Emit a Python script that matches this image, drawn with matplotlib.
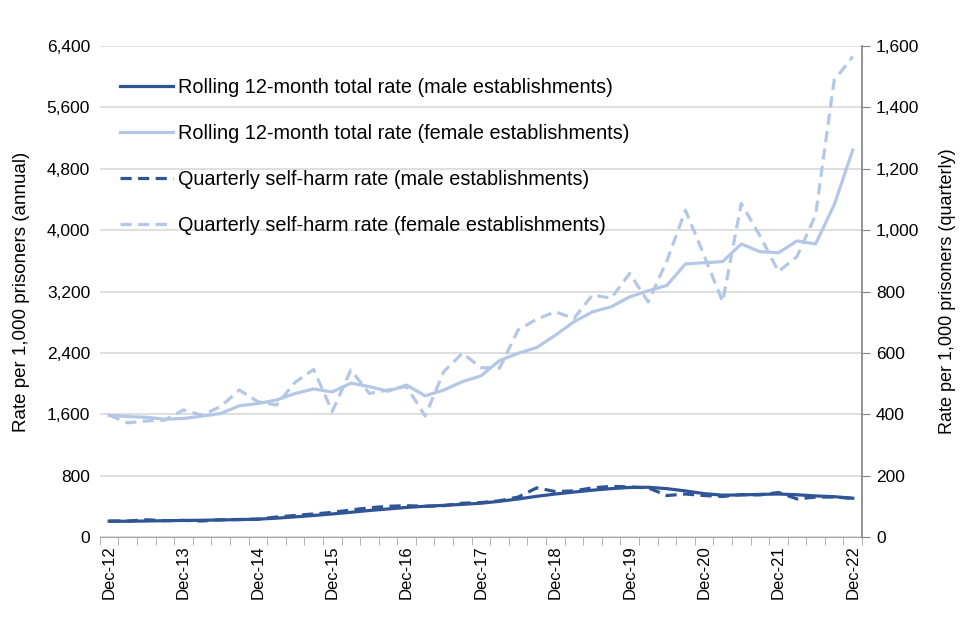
import matplotlib
matplotlib.use('Agg')
import matplotlib.pyplot as plt
from matplotlib.ticker import FuncFormatter, FixedLocator

plt.rcParams['font.family'] = ['Liberation Sans', 'DejaVu Sans']

# quarters Dec-12 .. Dec-22
quarters = ['Dec-12', 'Mar-13', 'Jun-13', 'Sep-13', 'Dec-13', 'Mar-14', 'Jun-14', 'Sep-14',
            'Dec-14', 'Mar-15', 'Jun-15', 'Sep-15', 'Dec-15', 'Mar-16', 'Jun-16', 'Sep-16',
            'Dec-16', 'Mar-17', 'Jun-17', 'Sep-17', 'Dec-17', 'Mar-18', 'Jun-18', 'Sep-18',
            'Dec-18', 'Mar-19', 'Jun-19', 'Sep-19', 'Dec-19', 'Mar-20', 'Jun-20', 'Sep-20',
            'Dec-20', 'Mar-21', 'Jun-21', 'Sep-21', 'Dec-21', 'Mar-22', 'Jun-22', 'Sep-22',
            'Dec-22']

# rolling 12-month rate (annual, left axis)
male_rolling = [205, 205, 208, 212, 215, 218, 222, 226, 232, 245, 262, 280, 300, 322, 345, 365,
                385, 400, 412, 425, 440, 465, 495, 530, 560, 585, 610, 630, 645, 648, 630, 600,
                565, 545, 548, 555, 560, 550, 535, 525, 505]
female_rolling = [1585, 1570, 1560, 1535, 1545, 1575, 1610, 1710, 1740, 1785, 1870, 1930, 1890,
                  2005, 1960, 1900, 1980, 1840, 1915, 2025, 2100, 2300, 2395, 2470, 2630, 2805,
                  2935, 3000, 3130, 3210, 3280, 3560, 3575, 3590, 3820, 3720, 3705, 3860, 3820,
                  4330, 5045]

# quarterly rate (right axis)
male_quarterly = [52, 52, 56, 53, 54, 52, 56, 57, 58, 65, 70, 75, 80, 88, 95, 100, 102, 100, 102,
                  110, 112, 118, 130, 160, 148, 150, 160, 165, 163, 160, 135, 140, 135, 132, 138,
                  137, 145, 124, 130, 130, 126]
female_quarterly = [397, 372, 378, 381, 414, 397, 425, 479, 441, 430, 504, 546, 409, 544, 468, 479,
                    490, 394, 539, 599, 552, 550, 675, 710, 734, 712, 789, 778, 859, 766, 900, 1065,
                    918, 767, 1087, 982, 865, 914, 1050, 1489, 1566]

dark = '#2F5597'
light = '#B4C7E7'
x = list(range(len(quarters)))

fig = plt.figure(figsize=(9.6, 6.4), dpi=100)
ax = fig.add_axes([0.104, 0.161, 0.794, 0.767])
ax2 = ax.twinx()

l1, = ax.plot(x, male_rolling, color=dark, lw=2.3, label='Rolling 12-month total rate (male establishments)')
l2, = ax.plot(x, female_rolling, color=light, lw=2.3, label='Rolling 12-month total rate (female establishments)')
l3, = ax2.plot(x, male_quarterly, color=dark, lw=2.3, dashes=(3.5, 2), label='Quarterly self-harm rate (male establishments)')
l4, = ax2.plot(x, female_quarterly, color=light, lw=2.3, dashes=(3.5, 2), label='Quarterly self-harm rate (female establishments)')

ax.set_xlim(-0.5, len(quarters) - 0.5)
ax.set_ylim(0, 6400)
ax2.set_ylim(0, 1600)
ax.set_yticks(range(0, 6401, 800))
ax2.set_yticks(range(0, 1601, 200))
fmt = FuncFormatter(lambda v, p: f'{int(v):,}')
ax.yaxis.set_major_formatter(fmt)
ax2.yaxis.set_major_formatter(fmt)

ax.grid(axis='y', color='#D9D9D9', lw=1.2)
ax.set_axisbelow(True)

major = [i for i, q in enumerate(quarters) if q.startswith('Dec')]
ax.set_xticks(major)
ax.set_xticklabels([quarters[i] for i in major], rotation=90)
ax.xaxis.set_minor_locator(FixedLocator([i - 0.5 for i in range(len(quarters) + 1)]))
ax.tick_params(axis='x', which='major', length=0, pad=6, labelsize=12)
ax.tick_params(axis='x', which='minor', length=6, color='#A6A6A6', direction='out')
ax.tick_params(axis='y', length=0, labelsize=12.5, pad=7)
ax2.tick_params(axis='y', length=6, color='#808080', labelsize=12.5, direction='out', pad=4)

for s in ['top', 'left', 'right']:
    ax.spines[s].set_visible(False)
for s in ['top', 'left', 'bottom']:
    ax2.spines[s].set_visible(False)
ax.spines['bottom'].set_color('#A6A6A6')
ax2.spines['right'].set_color('#808080')
ax2.spines['right'].set_linewidth(1.2)

ax.set_ylabel('Rate per 1,000 prisoners (annual)', fontsize=13.5, labelpad=12)
ax2.set_ylabel('Rate per 1,000 prisoners (quarterly)', fontsize=13, rotation=90, labelpad=14)

ax2.legend(handles=[l1, l2, l3, l4], loc='upper left', bbox_to_anchor=(0.0, 0.975),
           frameon=False, fontsize=14.3, handlelength=2.7, handletextpad=0.25, labelspacing=1.35,
           borderaxespad=0.6)

fig.savefig('out.png', dpi=100)
